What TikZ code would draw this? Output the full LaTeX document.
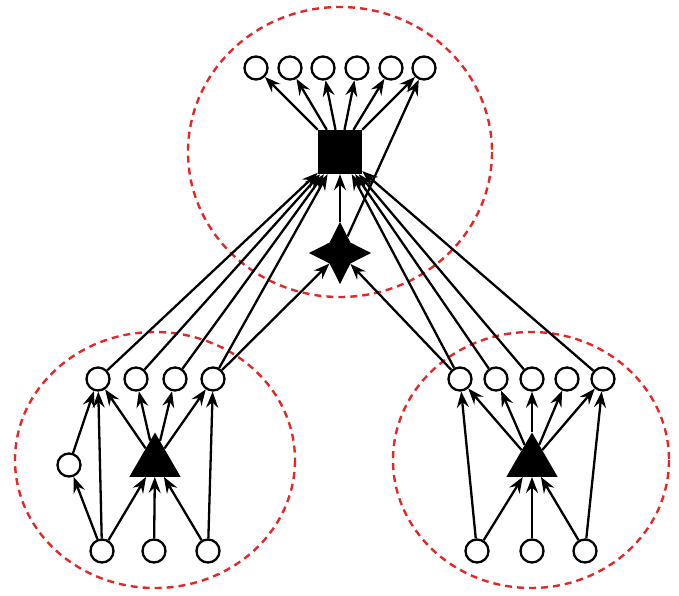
\documentclass[tikz,border=0pt]{standalone}
\usetikzlibrary{shapes.geometric,arrows.meta}
\definecolor{dashred}{RGB}{228,40,40}
\begin{document}
\begin{tikzpicture}[x=1pt,y=-1pt,
  cnode/.style={circle,draw=black,fill=white,line width=2.3pt,minimum size=23pt,inner sep=0pt},
  sq/.style={rectangle,fill=black,minimum size=44pt,inner sep=0pt},
  tri/.style={regular polygon,regular polygon sides=3,fill=black,minimum size=59pt,inner sep=0pt},
  starnode/.style={star,star points=4,star point ratio=2.1,fill=black,minimum size=62pt,inner sep=0pt},
  group/.style={draw=dashred,line width=2.4pt,dash pattern=on 7pt off 5pt},
  arr/.style={line width=2.3pt,-{Stealth[length=16pt,width=12pt,inset=5.5pt]}}]
\useasboundingbox (0,0) rectangle (679,596);
% groups
\draw[group] (340,152) ellipse [x radius=152, y radius=145];
\draw[group] (155,460) ellipse [x radius=140, y radius=128];
\draw[group] (531,460) ellipse [x radius=138, y radius=128];
% top cluster
\node[sq] (S) at (340,152) {};
\node[starnode] (D) at (340,253) {};
\foreach \i/\x in {1/256,2/290,3/323,4/357,5/391,6/424}
  \node[cnode] (T\i) at (\x,68) {};
% left cluster
\foreach \i/\x in {1/98,2/136,3/175,4/213}
  \node[cnode] (L\i) at (\x,379) {};
\node[cnode] (LM) at (69,465) {};
\node[tri] (LT) at (155,462) {};
\foreach \i/\x in {1/102,2/154,3/208}
  \node[cnode] (LB\i) at (\x,551) {};
% right cluster
\foreach \i/\x in {1/460,2/496,3/532,4/567,5/603}
  \node[cnode] (R\i) at (\x,379) {};
\node[tri] (RT) at (532,462) {};
\foreach \i/\x in {1/477,2/532,3/585}
  \node[cnode] (RB\i) at (\x,551) {};
% top edges
\foreach \i in {1,...,6} \draw[arr] (S) -- (T\i);
\draw[arr] (D) -- (S);
\draw[arr] (D) -- (T6);
% left to top
\foreach \i in {1,...,4} \draw[arr] (L\i) -- (S);
\draw[arr] (L4) -- (D);
% right to top
\foreach \i in {1,2,3,5} \draw[arr] (R\i) -- (S);
\draw[arr] (R1) -- (D);
% left internal
\foreach \i in {1,...,4} \draw[arr] (LT) -- (L\i);
\draw[arr] (LM) -- (L1);
\draw[arr] (LB1) -- (LM);
\draw[arr] (LB1) -- (L1);
\foreach \i in {1,2,3} \draw[arr] (LB\i) -- (LT);
\draw[arr] (LB3) -- (L4);
% right internal
\foreach \i in {1,...,5} \draw[arr] (RT) -- (R\i);
\foreach \i in {1,2,3} \draw[arr] (RB\i) -- (RT);
\draw[arr] (RB1) -- (R1);
\draw[arr] (RB3) -- (R5);
\end{tikzpicture}
\end{document}
